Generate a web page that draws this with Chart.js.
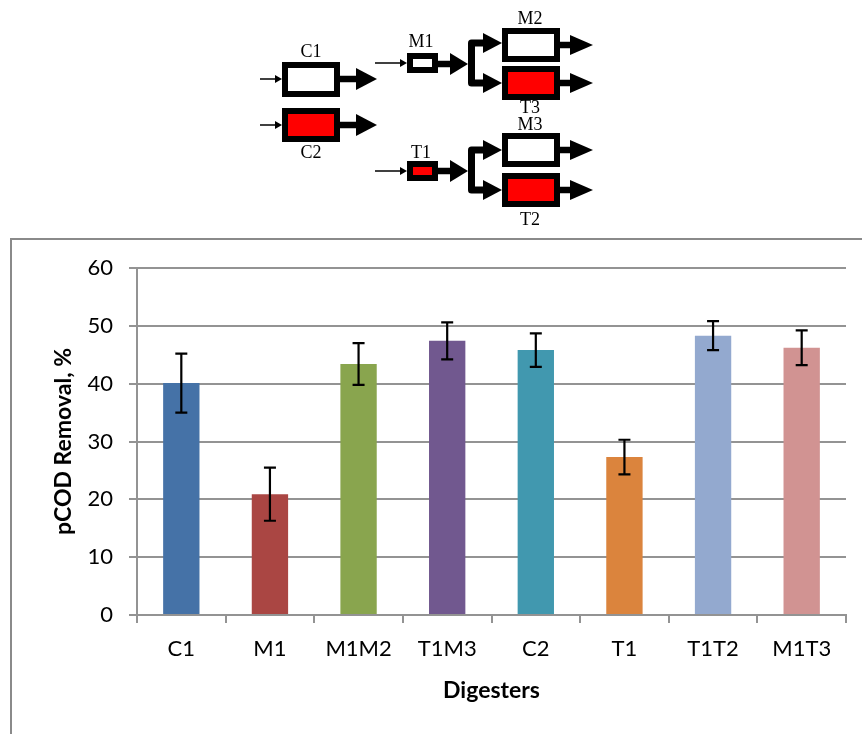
<!DOCTYPE html>
<html>
<head>
<meta charset="utf-8">
<script src="https://cdn.jsdelivr.net/npm/chart.js@4"></script>
<style>
  html, body { margin: 0; padding: 0; background: #fff; }
  #wrap { width: 862px; height: 734px; }
</style>
</head>
<body>
<div id="wrap"><canvas id="chart" width="862" height="734"></canvas></div>
<script>
// Digester data
var categories = ['C1', 'M1', 'M1M2', 'T1M3', 'C2', 'T1', 'T1T2', 'M1T3'];
var removal = [40.1, 20.9, 43.4, 47.4, 45.8, 27.3, 48.3, 46.2];
var removalErr = [5.1, 4.6, 3.6, 3.2, 2.9, 3.0, 2.5, 3.0];
var barColors = ['#4572A7', '#AA4643', '#89A54E', '#71588F', '#4198AF', '#DB843D', '#93A9CF', '#D19392'];
var yMin = 0, yMax = 60, yStep = 10;

var GRID = '#939393';
var FONT = 'Lato, "Open Sans", sans-serif';

// Error bars drawn from the bar elements and y scale
var errorBars = {
  id: 'errorBars',
  afterDatasetsDraw: function(chart) {
    var ctx = chart.ctx;
    var yScale = chart.scales.y;
    var meta = chart.getDatasetMeta(0);
    ctx.save();
    ctx.strokeStyle = '#000';
    ctx.lineWidth = 2.2;
    meta.data.forEach(function(bar, i) {
      var top = yScale.getPixelForValue(removal[i] + removalErr[i]);
      var bot = yScale.getPixelForValue(removal[i] - removalErr[i]);
      ctx.beginPath();
      ctx.moveTo(bar.x, top); ctx.lineTo(bar.x, bot);
      ctx.moveTo(bar.x - 6, top); ctx.lineTo(bar.x + 6, top);
      ctx.moveTo(bar.x - 6, bot); ctx.lineTo(bar.x + 6, bot);
      ctx.stroke();
    });
    ctx.restore();
  }
};

// Frame around the chart (only top and left edges are inside the picture)
var frame = {
  id: 'frame',
  beforeDraw: function(chart) {
    var ctx = chart.ctx;
    ctx.save();
    ctx.fillStyle = '#fff';
    ctx.fillRect(0, 0, chart.width, chart.height);
    ctx.strokeStyle = '#8a8a8a';
    ctx.lineWidth = 2;
    ctx.beginPath();
    ctx.moveTo(11, chart.height);
    ctx.lineTo(11, 239);
    ctx.lineTo(chart.width, 239);
    ctx.stroke();
    ctx.restore();
  }
};

// Schematic of the digester configurations above the chart
function box(ctx, x, y, w, h, fill) {
  ctx.fillStyle = '#000';
  ctx.fillRect(x, y, w, h);
  ctx.fillStyle = fill;
  ctx.fillRect(x + 6, y + 6, w - 12, h - 12);
}

function head(ctx, tip, y, len, half) {
  ctx.fillStyle = '#000';
  ctx.beginPath();
  ctx.moveTo(tip, y);
  ctx.lineTo(tip - len, y - half);
  ctx.lineTo(tip - len, y + half);
  ctx.closePath();
  ctx.fill();
}

function thinArrow(ctx, x1, x2, y) {
  ctx.strokeStyle = '#000';
  ctx.lineWidth = 1.5;
  ctx.beginPath();
  ctx.moveTo(x1, y); ctx.lineTo(x2 - 5, y);
  ctx.stroke();
  head(ctx, x2, y, 7, 4);
}

function thickArrow(ctx, x1, x2, y, len, half) {
  ctx.strokeStyle = '#000';
  ctx.lineWidth = 6.5;
  ctx.beginPath();
  ctx.moveTo(x1, y); ctx.lineTo(x2 - len + 2, y);
  ctx.stroke();
  head(ctx, x2, y, len, half);
}

function fork(ctx, x, yTop, yBot, end) {
  ctx.strokeStyle = '#000';
  ctx.lineWidth = 7;
  ctx.lineJoin = 'round';
  ctx.beginPath();
  ctx.moveTo(end - 17, yTop);
  ctx.lineTo(x, yTop);
  ctx.lineTo(x, yBot);
  ctx.lineTo(end - 17, yBot);
  ctx.stroke();
  head(ctx, end, yTop, 19, 10);
  head(ctx, end, yBot, 19, 10);
}

var diagram = {
  id: 'diagram',
  afterDraw: function(chart) {
    var ctx = chart.ctx;
    ctx.save();
    var RED = '#FF0000', WHITE = '#FFFFFF';

    // single-stage digesters
    thinArrow(ctx, 260, 282, 79);
    thinArrow(ctx, 260, 282, 125);
    box(ctx, 282, 62, 58, 35, WHITE);
    box(ctx, 282, 108, 58, 34, RED);
    thickArrow(ctx, 340, 377, 79, 21, 11);
    thickArrow(ctx, 340, 377, 125, 21, 11);

    // first stage of the two-stage systems
    thinArrow(ctx, 375, 407, 63);
    thinArrow(ctx, 375, 407, 171);
    box(ctx, 407, 53, 31, 20, WHITE);
    box(ctx, 407, 161, 31, 20, RED);
    thickArrow(ctx, 438, 468, 64, 18, 11);
    thickArrow(ctx, 438, 468, 171, 18, 11);

    fork(ctx, 471.5, 43, 83, 502);
    fork(ctx, 471.5, 150, 190, 502);

    // second stage
    box(ctx, 502, 28, 58, 34, WHITE);
    box(ctx, 502, 66, 58, 34, RED);
    box(ctx, 502, 133, 58, 34, WHITE);
    box(ctx, 502, 173, 58, 34, RED);
    thickArrow(ctx, 560, 593, 45, 23, 10);
    thickArrow(ctx, 560, 593, 83, 23, 10);
    thickArrow(ctx, 560, 593, 150, 23, 10);
    thickArrow(ctx, 560, 593, 190, 23, 10);

    ctx.fillStyle = '#000';
    ctx.font = '18px "Liberation Serif", "DejaVu Serif", serif';
    ctx.textAlign = 'center';
    ctx.textBaseline = 'middle';
    var labels = [['C1', 311, 52], ['C2', 311, 153], ['M1', 421, 42], ['T1', 421, 153],
                  ['M2', 530, 19], ['T3', 530, 108], ['M3', 530, 125], ['T2', 530, 220]];
    labels.forEach(function(l) { ctx.fillText(l[0], l[1], l[2]); });
    ctx.restore();
  }
};

var ctx = document.getElementById('chart').getContext('2d');
var chart = new Chart(ctx, {
  type: 'bar',
  data: {
    labels: categories,
    datasets: [{
      label: 'pCOD Removal',
      data: removal,
      backgroundColor: barColors,
      borderWidth: 0,
      categoryPercentage: 1.0,
      barPercentage: 0.41
    }]
  },
  options: {
    responsive: false,
    animation: false,
    devicePixelRatio: 1,
    layout: { padding: { top: 268, right: 16, bottom: 0, left: 0 } },
    plugins: {
      legend: { display: false },
      tooltip: { enabled: false }
    },
    scales: {
      x: {
        grid: {
          offset: true,
          drawOnChartArea: false,
          drawTicks: true,
          tickLength: 8,
          color: GRID,
          lineWidth: 2
        },
        border: { display: true, color: GRID, width: 2 },
        ticks: { color: '#000', padding: 13, font: { family: FONT, size: 22 } },
        title: {
          display: true,
          text: 'Digesters',
          color: '#000',
          font: { family: FONT, size: 23, weight: 'bold' },
          padding: { top: 0, bottom: 30 }
        },
        afterFit: function(scale) { scale.height = 119; }
      },
      y: {
        min: yMin,
        max: yMax,
        ticks: { stepSize: yStep, color: '#000', padding: 16, font: { family: FONT, size: 22 } },
        grid: { color: GRID, lineWidth: 2, tickLength: 8 },
        border: { display: true, color: GRID, width: 2 },
        title: {
          display: true,
          text: 'pCOD Removal, %',
          color: '#000',
          font: { family: FONT, size: 23, weight: 'bold' },
          padding: { top: 50, bottom: 0 }
        },
        afterFit: function(scale) { scale.width = 137; }
      }
    }
  },
  plugins: [frame, errorBars, diagram]
});
</script>
</body>
</html>
